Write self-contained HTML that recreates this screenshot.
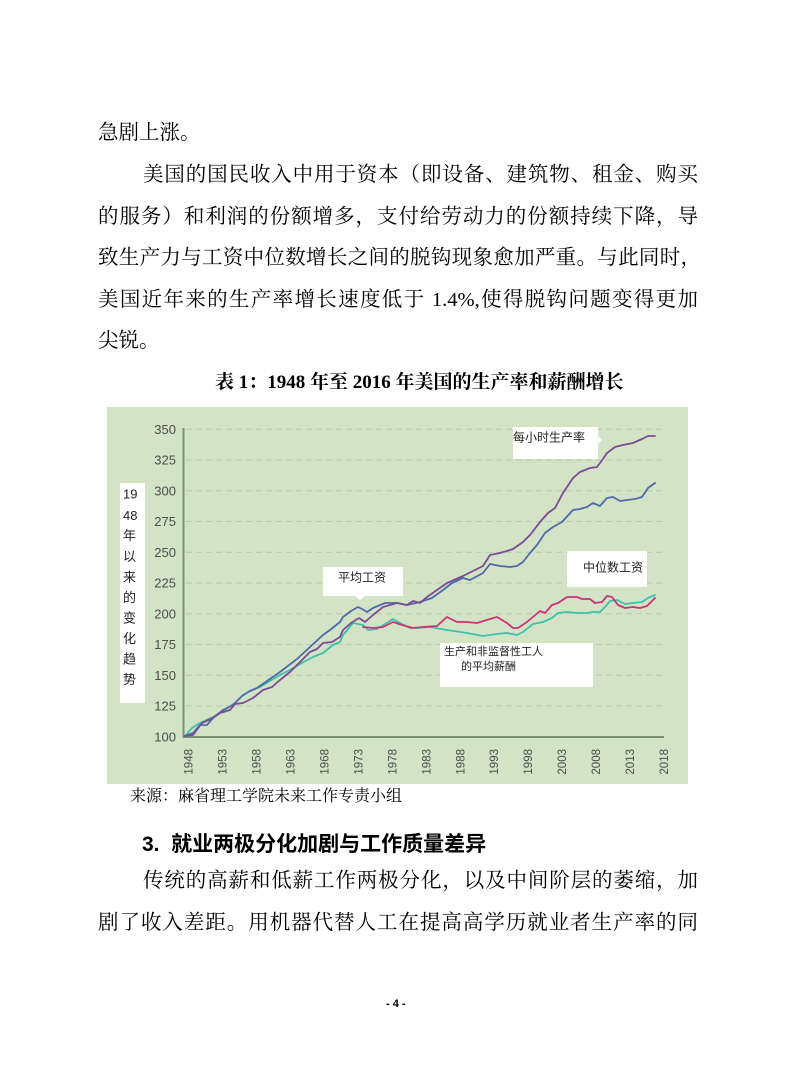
<!DOCTYPE html>
<html><head><meta charset="utf-8">
<style>
html,body{margin:0;padding:0;background:#fff;}
body{width:793px;height:1077px;position:relative;overflow:hidden;}
.t{position:absolute;font-family:"Liberation Serif","Noto Serif CJK SC",serif;font-size:20.5px;line-height:21px;color:#000;white-space:nowrap;}
.j{text-align:justify;text-align-last:justify;white-space:normal;}
</style></head>
<body>
<div class="t" style="left:98px;top:123px;">急剧上涨。</div>
<div class="t j" style="left:143px;top:165px;width:555px;">美国的国民收入中用于资本（即设备、建筑物、租金、购买</div>
<div class="t j" style="left:98px;top:207px;width:600px;">的服务）和利润的份额增多，支付给劳动力的份额持续下降，导</div>
<div class="t j" style="left:98px;top:248px;width:603px;">致生产力与工资中位数增长之间的脱钩现象愈加严重。与此同时，</div>
<div class="t j" style="left:98px;top:290px;width:600px;">美国近年来的生产率增长速度低于 1.4%,使得脱钩问题变得更加</div>
<div class="t" style="left:98px;top:331px;">尖锐。</div>
<div class="t" style="left:215px;top:372px;font-size:19px;font-weight:bold;">表 1：1948 年至 2016 年美国的生产率和薪酬增长</div>

<svg style="position:absolute;left:0;top:0" width="793" height="1077" viewBox="0 0 793 1077">
<rect x="107" y="407" width="581" height="377" fill="#d3e3c6"/>
<g stroke="#b9c8b0" stroke-width="1" stroke-dasharray="6,4">
<line x1="186" y1="706" x2="664" y2="706"/>
<line x1="186" y1="675.2" x2="664" y2="675.2"/>
<line x1="186" y1="644.5" x2="664" y2="644.5"/>
<line x1="186" y1="613.7" x2="664" y2="613.7"/>
<line x1="186" y1="583" x2="664" y2="583"/>
<line x1="186" y1="552.3" x2="664" y2="552.3"/>
<line x1="186" y1="521.5" x2="664" y2="521.5"/>
<line x1="186" y1="490.8" x2="664" y2="490.8"/>
<line x1="186" y1="460" x2="664" y2="460"/>
<line x1="186" y1="429.3" x2="664" y2="429.3"/>
</g>
<line x1="183.5" y1="428" x2="183.5" y2="738" stroke="#7e9073" stroke-width="2"/>
<line x1="183" y1="737" x2="664" y2="737" stroke="#7e9073" stroke-width="2"/>
<g font-family="Liberation Sans, sans-serif" font-size="13" fill="#4d4d4d" text-anchor="end">
<text x="176" y="741.5">100</text>
<text x="176" y="710.5">125</text>
<text x="176" y="680">150</text>
<text x="176" y="649">175</text>
<text x="176" y="618.5">200</text>
<text x="176" y="587.5">225</text>
<text x="176" y="557">250</text>
<text x="176" y="526">275</text>
<text x="176" y="495.5">300</text>
<text x="176" y="464.5">325</text>
<text x="176" y="434">350</text>
</g>
<g font-family="Liberation Sans, sans-serif" font-size="11.5" fill="#4d4d4d" text-anchor="end">
<text transform="translate(192.5,749) rotate(-90)">1948</text>
<text transform="translate(226.5,749) rotate(-90)">1953</text>
<text transform="translate(260.5,749) rotate(-90)">1958</text>
<text transform="translate(294.5,749) rotate(-90)">1963</text>
<text transform="translate(328.5,749) rotate(-90)">1968</text>
<text transform="translate(362.5,749) rotate(-90)">1973</text>
<text transform="translate(396.5,749) rotate(-90)">1978</text>
<text transform="translate(430.5,749) rotate(-90)">1983</text>
<text transform="translate(464.5,749) rotate(-90)">1988</text>
<text transform="translate(498,749) rotate(-90)">1993</text>
<text transform="translate(532,749) rotate(-90)">1998</text>
<text transform="translate(566,749) rotate(-90)">2003</text>
<text transform="translate(600,749) rotate(-90)">2008</text>
<text transform="translate(634,749) rotate(-90)">2013</text>
<text transform="translate(668,749) rotate(-90)">2018</text>
</g>
<rect x="120" y="483" width="25" height="220" fill="#fff"/>
<g font-family="Liberation Sans, Noto Sans CJK SC, sans-serif" font-size="13" fill="#222">
<text x="123" y="498.5">19</text>
<text x="123" y="520">48</text>
<text x="123" y="540">年</text>
<text x="123" y="561">以</text>
<text x="123" y="581.5">来</text>
<text x="123" y="602">的</text>
<text x="123" y="622.5">变</text>
<text x="123" y="643">化</text>
<text x="123" y="663.5">趋</text>
<text x="123" y="684">势</text>
</g>
<g fill="none" stroke-width="1.8" stroke-linejoin="round" stroke-linecap="round">
<polyline stroke="#3fbfae" points="185,736 192,728 200,723 213,717 223,711 235,703 243,695 252,690 260,687 270,681 280,675 290,670 300,664 313,657 323,653 333,645 340,642 343,635 353,623 358,624 363,625 368,630 377,629 393,619 400,623 410,628 417,628 430,627 447,630 467,633 483,636 497,634 507,633 517,635 523,632 533,624 543,622 552,618 558,613 567,612 577,613 587,613 593,612 600,612 605,607 610,601 617,600 625,604 633,603 642,602 648,598 655,595"/>
<polyline stroke="#cc3377" points="363,627 373,628 383,627 393,622 402,625 413,628 423,627 437,626 447,617 457,622 467,622 477,623 490,619 497,617 507,623 513,628 518,628 527,622 540,611 545,613 552,605 558,603 567,597 577,597 582,599 590,599 595,603 602,602 607,596 612,597 618,605 625,608 633,607 640,608 647,606 655,598"/>
<polyline stroke="#4e6aa8" points="185,736 193,733 200,725 207,725 213,718 223,710 233,705 242,696 250,691 257,688 267,681 280,672 297,659 310,647 323,635 330,630 340,622 343,617 351,611 358,607 362,609 367,612 373,608 385,603 397,603 407,605 420,602 432,598 443,590 452,583 463,578 470,580 483,573 490,564 500,566 510,567 517,566 523,562 530,553 537,545 545,533 553,527 562,522 573,510 580,509 587,507 593,503 600,506 607,498 613,497 620,501 627,500 635,499 642,497 648,488 655,483"/>
<polyline stroke="#7b4b94" points="185,736 193,735 202,723 213,718 220,713 230,710 235,704 243,703 253,698 263,690 272,687 280,680 290,672 300,662 310,652 317,649 323,643 332,642 340,637 343,630 351,623 359,618 365,622 373,615 383,607 397,603 407,605 413,601 420,603 427,597 437,590 447,583 463,576 477,569 483,566 490,555 500,553 510,550 513,549 523,542 530,535 540,522 548,513 555,508 563,493 573,478 580,472 590,468 597,467 603,459 607,453 615,447 623,445 633,443 642,439 648,436 655,436"/>
</g>
<g fill="#fff">
<rect x="323" y="567" width="80" height="29"/>
<polygon points="355,596 365,596 360,600"/>
<rect x="513" y="427" width="85" height="32"/>
<polygon points="598,436 598,444 602,440"/>
<rect x="567" y="551" width="80" height="36"/>
<rect x="440" y="643" width="153" height="44"/>
</g>
<g font-family="Noto Sans CJK SC, sans-serif" fill="#222">
<text x="338" y="581.5" font-size="12">平均工资</text>
<text x="513" y="441.5" font-size="12">每小时生产率</text>
<text x="583" y="571.5" font-size="12">中位数工资</text>
<text x="444" y="655" font-size="11">生产和非监督性工人</text>
<text x="461" y="670" font-size="11">的平均薪酬</text>
</g>
</svg>

<div class="t" style="left:130px;top:788px;font-size:16px;line-height:18px;">来源：麻省理工学院未来工作专责小组</div>
<div class="t" style="left:142px;top:834px;font-size:21px;line-height:22px;font-weight:bold;font-family:'Liberation Sans','Noto Sans CJK SC',sans-serif;">3.&nbsp; 就业两极分化加剧与工作质量差异</div>
<div class="t j" style="left:143px;top:871px;width:555px;">传统的高薪和低薪工作两极分化，以及中间阶层的萎缩，加</div>
<div class="t j" style="left:98px;top:913px;width:600px;">剧了收入差距。用机器代替人工在提高高学历就业者生产率的同</div>
<div class="t" style="left:386px;top:997px;font-size:11px;line-height:14px;font-weight:bold;font-family:'Liberation Sans',sans-serif;">- 4 -</div>
</body></html>
